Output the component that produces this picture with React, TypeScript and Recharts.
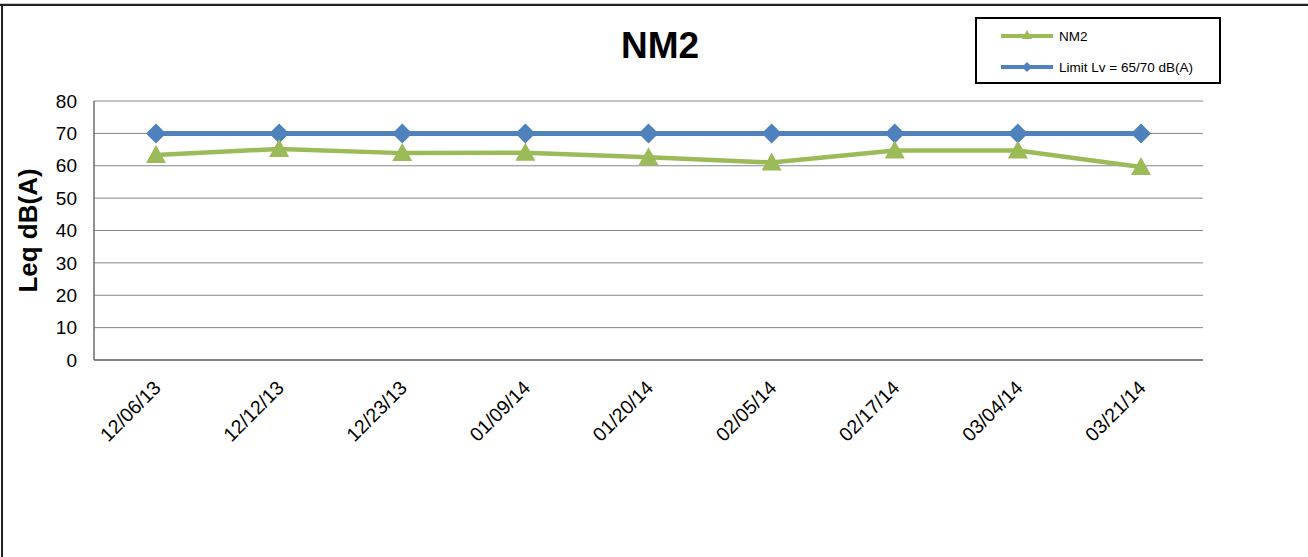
import React from "react";
import { LineChart, Line, XAxis, YAxis, CartesianGrid, Legend } from "recharts";

const dates = ["12/06/13", "12/12/13", "12/23/13", "01/09/14", "01/20/14", "02/05/14", "02/17/14", "03/04/14", "03/21/14"];
const nm2 = [63.3, 65.2, 63.9, 64.0, 62.6, 61.0, 64.7, 64.7, 59.6];
const limit = [70, 70, 70, 70, 70, 70, 70, 70, 70];
const yTicks = [0, 10, 20, 30, 40, 50, 60, 70, 80];

const data = dates.map((d, i) => ({ date: d, nm2: nm2[i], limit: limit[i] }));

const GREEN = "#9BBB59";
const BLUE = "#4F81BD";
const FONT = "'Liberation Sans', Arial, sans-serif";

function Triangle(props: any) {
    const { cx, cy, index } = props;
    if (cx == null || cy == null) return <g key={`t-${index}`} />;
    return <path key={`t-${index}`} d={`M${cx},${cy - 10} L${cx + 10},${cy + 8} L${cx - 10},${cy + 8} Z`} fill={GREEN} />;
}

function Diamond(props: any) {
    const { cx, cy, index } = props;
    if (cx == null || cy == null) return <g key={`d-${index}`} />;
    return <path key={`d-${index}`} d={`M${cx},${cy - 10} L${cx + 10},${cy} L${cx},${cy + 10} L${cx - 10},${cy} Z`} fill={BLUE} />;
}

function DateTick(props: any) {
    const { x, y, payload } = props;
    return (
        <g transform={`translate(${x + 6},${y + 21})`}>
            <text textAnchor="end" transform="rotate(-45)" fontSize={19.5} fontFamily={FONT} fill="#000">
                {payload.value}
            </text>
        </g>
    );
}

function LegendBox() {
    const row = (color: string, label: string, shape: "tri" | "dia", top: number) => (
        <div style={{ position: "absolute", left: 23, top, height: 16, display: "flex", alignItems: "center" }}>
            <svg width={54} height={16}>
                <line x1={1} y1={8} x2={53} y2={8} stroke={color} strokeWidth={4} />
                {shape === "tri"
                    ? <path d="M27,2 L32,11 L22,11 Z" fill={color} />
                    : <path d="M27,3 L32,8 L27,13 L22,8 Z" fill={color} />}
            </svg>
            <span style={{ marginLeft: 5, fontSize: 13.5, fontFamily: FONT, color: "#000", whiteSpace: "nowrap" }}>{label}</span>
        </div>
    );
    return (
        <div style={{ position: "relative", width: 242, height: 63, border: "2px solid #000", background: "#fff" }}>
            {row(GREEN, "NM2", "tri", 9)}
            {row(BLUE, "Limit Lv = 65/70 dB(A)", "dia", 40)}
        </div>
    );
}

export default function App() {
    return (
        <div style={{ position: "absolute", left: 0, top: 0, width: 1308, height: 557, background: "#fff" }}>
            <div style={{ position: "absolute", left: 0, top: 3, width: 1308, height: 1, background: "#c8c8c8" }} />
            <div style={{ position: "absolute", left: 0, top: 4, width: 1308, height: 2, background: "#222" }} />
            <div style={{ position: "absolute", left: 1, top: 4, width: 2, height: 553, background: "#222" }} />
            <div style={{ position: "absolute", left: 6, top: 25, width: 1308, textAlign: "center", fontFamily: FONT, fontWeight: "bold", fontSize: 37, lineHeight: "42px", color: "#000" }}>
                NM2
            </div>
            <LineChart width={1308} height={557} data={data} margin={{ top: 101, right: 105, left: 34, bottom: 0 }}>
                <CartesianGrid vertical={false} stroke="#868686" strokeWidth={1} />
                <XAxis dataKey="date" height={197} padding={{ left: 62, right: 62 }} tick={<DateTick />} tickLine={false} axisLine={{ stroke: "#6e6e6e", strokeWidth: 1.5 }} interval={0} />
                <YAxis
                    domain={[0, 80]}
                    ticks={yTicks}
                    width={60}
                    tickSize={0}
                    tickMargin={17}
                    tickLine={false}
                    axisLine={{ stroke: "#6e6e6e", strokeWidth: 1.5 }}
                    tick={{ fontSize: 19, fontFamily: FONT, fill: "#000" }}
                    label={{ value: "Leq dB(A)", angle: -90, position: "insideLeft", dx: -11, dy: 0, style: { textAnchor: "middle", fontSize: 26, fontWeight: "bold", fontFamily: FONT, fill: "#000" } }}
                />
                <Legend layout="horizontal" verticalAlign="middle" align="center" wrapperStyle={{ top: 17, left: 975, width: 246 }} content={() => <LegendBox />} />
                <Line type="linear" dataKey="limit" name="Limit Lv = 65/70 dB(A)" stroke={BLUE} strokeWidth={5} dot={Diamond} activeDot={false} isAnimationActive={false} />
                <Line type="linear" dataKey="nm2" name="NM2" stroke={GREEN} strokeWidth={4.5} dot={Triangle} activeDot={false} isAnimationActive={false} />
            </LineChart>
        </div>
    );
}
